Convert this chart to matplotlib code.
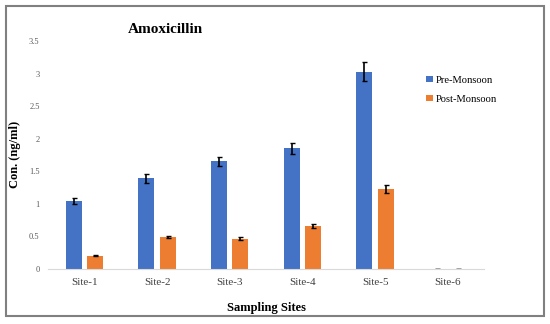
import numpy as np
import matplotlib.pyplot as plt
from matplotlib.patches import Rectangle

plt.rcParams['font.family'] = ['Liberation Serif', 'DejaVu Serif']

sites = ['Site-1', 'Site-2', 'Site-3', 'Site-4', 'Site-5', 'Site-6']
pre_monsoon = [1.04, 1.39, 1.65, 1.85, 3.03, 0.0]
pre_err = [0.05, 0.07, 0.07, 0.08, 0.15, 0.0]
post_monsoon = [0.20, 0.49, 0.46, 0.66, 1.23, 0.0]
post_err = [0.01, 0.02, 0.02, 0.03, 0.06, 0.0]

fig = plt.figure(figsize=(5.5, 3.24), dpi=100)
ax = fig.add_axes([0.0873, 0.1707, 0.7927, 0.7028])

x = np.arange(len(sites))
w = 0.22
off = 0.145
ekw = dict(elinewidth=1.2, capsize=1.8, capthick=1.0, ecolor='black')
ax.bar(x - off, pre_monsoon, w, yerr=pre_err, color='#4472C4', label='Pre-Monsoon', error_kw=ekw)
ax.bar(x + off, post_monsoon, w, yerr=post_err, color='#ED7D31', label='Post-Monsoon', error_kw=ekw)

ax.set_xlim(-0.5, 5.5)
ax.set_ylim(0, 3.5)
ax.set_yticks(np.arange(0, 3.51, 0.5))
ax.set_yticklabels(['0', '0.5', '1', '1.5', '2', '2.5', '3', '3.5'])
ax.set_xticks(x)
ax.set_xticklabels(sites)
ax.tick_params(axis='y', length=0, labelsize=6, colors='#595959', pad=6)
ax.tick_params(axis='x', length=0, labelsize=8, colors='#404040', pad=7)
for s in ['top', 'right', 'left']:
    ax.spines[s].set_visible(False)
ax.spines['bottom'].set_color('#D9D9D9')

ax.set_xlabel('Sampling Sites', fontsize=9, fontweight='bold')
ax.xaxis.set_label_coords(0.5, -0.145)
ax.set_ylabel('Con. (ng/ml)', fontsize=9, fontweight='bold')
ax.yaxis.set_label_coords(-0.062, 0.5)
fig.text(0.30, 0.91, 'Amoxicillin', fontsize=11, fontweight='bold', ha='center', va='center')

ax.legend(loc='upper left', bbox_to_anchor=(0.758, 0.796), bbox_transform=fig.transFigure,
          frameon=False, fontsize=7.6, handlelength=0.6, handleheight=0.6, handletextpad=0.3,
          labelspacing=0.95)

fig.patches.append(Rectangle((6 / 550, 8 / 324), 538 / 550, 310 / 324, transform=fig.transFigure,
                             fill=False, edgecolor='#808080', linewidth=1.5))

fig.savefig('out.png', dpi=100)
